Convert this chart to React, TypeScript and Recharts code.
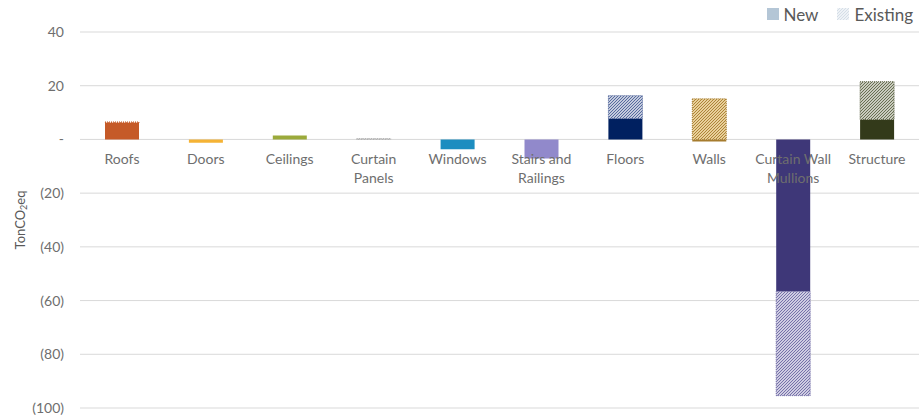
import React from 'react';
import { BarChart, Bar, XAxis, YAxis, CartesianGrid, Cell, Legend } from 'recharts';

const categories = [
  'Roofs',
  'Doors',
  'Ceilings',
  'Curtain Panels',
  'Windows',
  'Stairs and Railings',
  'Floors',
  'Walls',
  'Curtain Wall Mullions',
  'Structure',
];
const newValues = [6.2, -1.2, 1.5, 0, -3.7, -7.1, 7.8, -0.8, -56.6, 7.4];
const existingValues = [0.3, 0, 0, 0.3, 0, 0, 8.5, 15.1, -38.8, 14.1];
const seriesNames = ['New', 'Existing'];
const yTicks = [-100, -80, -60, -40, -20, 0, 20, 40];

const newColors = ['#C55A28', '#F5B335', '#9BAA3B', '#A5A5A5', '#1D8DC0', '#9189CB', '#002060', '#A67C2E', '#3E3778', '#333A1A'];
const hatchLine = ['#C55A28', '#F5B335', '#9BAA3B', '#A5A5A5', '#1D8DC0', '#9189CB', '#4A5F96', '#A67C2E', '#6C67A3', '#5E6446'];
const hatchBg = ['#F3D6C8', '#FCEBC6', '#E6EACB', '#F0F0F0', '#C7E3F0', '#E3E1F2', '#C4CBDD', '#E9D09A', '#CFCDE2', '#C9CBBE'];
const legendColors = ['#B4C6D6', '#D5DEE7'];

const Y_MIN = -100;
const Y_MAX = 40;
const W = 919;
const H = 419;
const LEGEND_H = 24;
const X_AXIS_H = 11;
const MARGIN = { top: 32 - LEGEND_H, right: 0, left: 0, bottom: 0 };
const PLOT_TOP = 32;
const PLOT_BOTTOM = H - MARGIN.bottom - X_AXIS_H;
const ZERO_Y = PLOT_TOP + ((Y_MAX - 0) / (Y_MAX - Y_MIN)) * (PLOT_BOTTOM - PLOT_TOP);

const FONT = 'Lato, "Open Sans", sans-serif';
const TEXT_COLOR = '#6E6E6E';

const data = categories.map((c, i) => ({ category: c, New: newValues[i], Existing: existingValues[i] }));

const fmt = (v: number) => (v === 0 ? '-' : v < 0 ? `(${Math.abs(v)})` : `${v}`);

const splitLabel = (s: string) => {
  if (s.length <= 12) return [s];
  const k = s.lastIndexOf(' ');
  return [s.slice(0, k), s.slice(k + 1)];
};

const CatTick = (props: any) => {
  const { x, payload } = props;
  const lines = splitLabel(String(payload.value));
  return (
    <g>
      {lines.map((l, i) => (
        <text
          key={i}
          x={x}
          y={ZERO_Y + 25 + i * 19}
          textAnchor="middle"
          fill={TEXT_COLOR}
          fontSize={14}
          fontFamily={FONT}
        >
          {l}
        </text>
      ))}
    </g>
  );
};

const YLabel = (props: any) => {
  const vb = props.viewBox || { x: 0, y: 0, width: 80, height: 0 };
  const cx = vb.x + 20;
  const cy = vb.y + vb.height / 2;
  return (
    <text
      x={cx}
      y={cy}
      transform={`rotate(-90 ${cx} ${cy})`}
      textAnchor="middle"
      dominantBaseline="central"
      fill="#595959"
      fontSize={13}
      fontFamily={FONT}
    >
      <tspan>TonCO</tspan>
      <tspan fontSize={9} dy={3}>2</tspan>
      <tspan dy={-3}>eq</tspan>
    </text>
  );
};

const LegendContent = () => (
  <div
    style={{
      height: LEGEND_H,
      display: 'flex',
      alignItems: 'center',
      justifyContent: 'flex-end',
      fontFamily: FONT,
      fontSize: 17,
      color: '#595959',
    }}
  >
    {seriesNames.map((n, i) => (
      <div key={n} style={{ display: 'flex', alignItems: 'center', marginLeft: i === 0 ? 0 : 19 }}>
        <svg width={12} height={12} style={{ marginRight: 5 }}>
          <rect width={12} height={12} fill={i === 0 ? legendColors[0] : 'url(#legend-hatch)'} />
        </svg>
        <span>{n}</span>
      </div>
    ))}
  </div>
);

export default function App() {
  return (
    <div style={{ position: 'absolute', left: 0, top: 0, width: W, height: H, background: '#fff' }}>
      <svg width={0} height={0} style={{ position: 'absolute' }}>
        <defs>
          <pattern id="legend-hatch" patternUnits="userSpaceOnUse" width={3} height={3}>
            <rect width={3} height={3} fill="#EEF2F6" />
            <path d="M0,3 L3,0 M-1,1 L1,-1 M2,4 L4,2" stroke={legendColors[1]} strokeWidth={1} />
          </pattern>
        </defs>
      </svg>
      <BarChart width={W} height={H} data={data} margin={MARGIN} stackOffset="sign" barSize={34}>
        <defs>
          {categories.map((c, i) => (
            <pattern key={c} id={`hatch-${i}`} patternUnits="userSpaceOnUse" width={3} height={3}>
              <rect width={3} height={3} fill={hatchBg[i]} />
              <path d="M0,3 L3,0 M-1,1 L1,-1 M2,4 L4,2" stroke={hatchLine[i]} strokeWidth={0.9} />
            </pattern>
          ))}
        </defs>
        <CartesianGrid vertical={false} stroke="#D9D9D9" strokeWidth={1} />
        <YAxis
          domain={[Y_MIN, Y_MAX]}
          ticks={yTicks}
          tickFormatter={fmt}
          axisLine={false}
          tickLine={false}
          width={80}
          tickMargin={10}
          tick={{ fill: TEXT_COLOR, fontSize: 14, fontFamily: FONT }}
          allowDataOverflow
          label={<YLabel />}
        />
        <Legend verticalAlign="top" align="right" content={<LegendContent />} wrapperStyle={{ top: 2, right: 6, width: 300, left: 'auto' }} />
        <Bar dataKey="New" stackId="a" fill={legendColors[0]} isAnimationActive={false}>
          {categories.map((c, i) => (
            <Cell key={c} fill={newColors[i]} />
          ))}
        </Bar>
        <Bar dataKey="Existing" stackId="a" fill={legendColors[1]} isAnimationActive={false}>
          {categories.map((c, i) => (
            <Cell key={c} fill={`url(#hatch-${i})`} stroke={hatchLine[i]} strokeWidth={1} strokeDasharray="1 1" />
          ))}
        </Bar>
        <XAxis dataKey="category" axisLine={false} tickLine={false} height={X_AXIS_H} interval={0} tick={<CatTick />} />
      </BarChart>
    </div>
  );
}
